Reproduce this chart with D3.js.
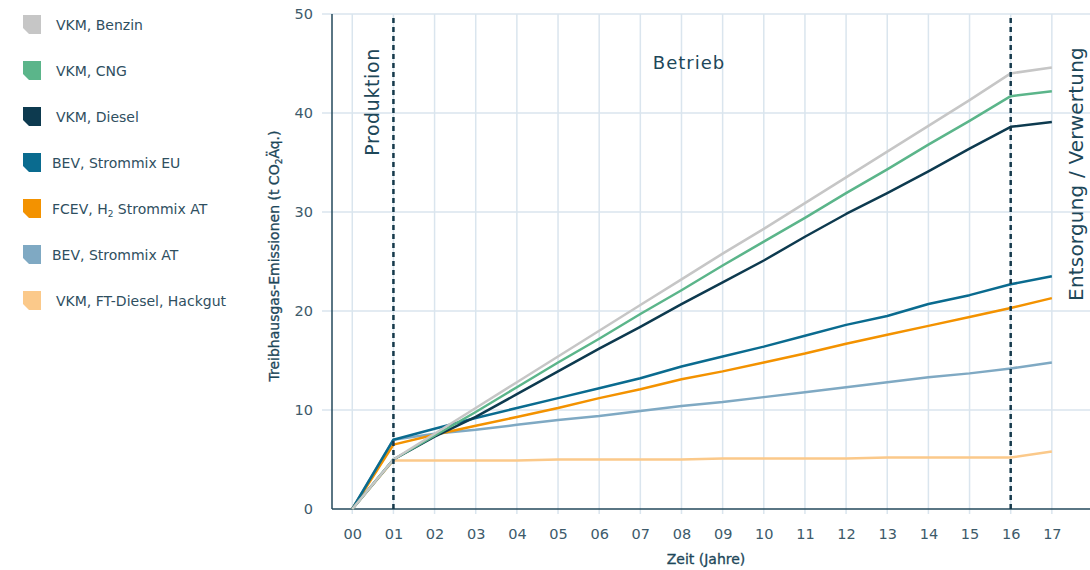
<!DOCTYPE html>
<html><head><meta charset="utf-8">
<script src="https://cdn.jsdelivr.net/npm/d3@7"></script>
<style>
body{margin:0;background:#fff;}
text{font-family:"DejaVu Sans",sans-serif;}
</style></head>
<body><svg id="c" width="1090" height="570"></svg>
<script>
const years = ["00","01","02","03","04","05","06","07","08","09","10","11","12","13","14","15","16","17"];
const yTicks = [0,10,20,30,40,50];
const seriesNames = ["VKM, Benzin","VKM, CNG","VKM, Diesel","BEV, Strommix EU","FCEV, H₂ Strommix AT","BEV, Strommix AT","VKM, FT-Diesel, Hackgut"];
const seriesColors = ["#c6c6c6","#5bb58a","#0d3a4f","#0a6b8f","#f39200","#7fa9c3","#fbc98a"];
const benzin  = [0,5.0,7.6,10.2,12.8,15.4,18.0,20.6,23.2,25.8,28.3,30.9,33.5,36.1,38.7,41.3,44.0,44.6];
const cng     = [0,5.0,7.4,9.8,12.3,14.8,17.2,19.7,22.1,24.6,27.0,29.4,31.9,34.3,36.8,39.2,41.7,42.2];
const diesel  = [0,5.0,7.3,9.3,11.6,13.9,16.2,18.4,20.7,22.9,25.1,27.5,29.8,31.9,34.1,36.4,38.6,39.1];
const bevEU   = [0,7.0,8.1,9.2,10.2,11.2,12.2,13.2,14.4,15.4,16.4,17.5,18.6,19.5,20.7,21.6,22.7,23.5];
const fcev    = [0,6.5,7.5,8.4,9.3,10.2,11.2,12.1,13.1,13.9,14.8,15.7,16.7,17.6,18.5,19.4,20.3,21.3];
const bevAT   = [0,7.0,7.6,8.0,8.5,9.0,9.4,9.9,10.4,10.8,11.3,11.8,12.3,12.8,13.3,13.7,14.2,14.8];
const ftDiesel= [0,4.9,4.9,4.9,4.9,5.0,5.0,5.0,5.0,5.1,5.1,5.1,5.1,5.2,5.2,5.2,5.2,5.8];
const seriesValues = [benzin,cng,diesel,bevEU,fcev,bevAT,ftDiesel];
const phaseMarks = ["01","16"];
const phaseLabels = ["Produktion","Betrieb","Entsorgung / Verwertung"];

const svg = d3.select("#c");
const L=332, R=1090, T=14, B=509;
const x = d3.scaleLinear().domain([-0.5,18]).range([331.7,1093]);
const y = d3.scaleLinear().domain([0,50]).range([B,T]);
const txt = "#1d4759";

// grid
const g = svg.append("g");
g.selectAll("line.h").data(yTicks.filter(d=>d>0)).join("line")
  .attr("x1",L-10).attr("x2",R).attr("y1",d=>y(d)).attr("y2",d=>y(d))
  .attr("stroke","#dae5ee").attr("stroke-width",1.5);
g.selectAll("line.v").data(years).join("line")
  .attr("x1",(d,i)=>x(i)).attr("x2",(d,i)=>x(i)).attr("y1",T).attr("y2",B+5)
  .attr("stroke","#dae5ee").attr("stroke-width",1.5);

// axes
const ya = svg.append("g").attr("transform",`translate(${L},0)`)
  .call(d3.axisLeft(y).tickValues(yTicks).tickSize(0).tickPadding(19));
ya.select(".domain").remove();
ya.selectAll("text").attr("font-size",14.5).attr("fill","#3d5a6a").attr("font-family","DejaVu Sans,sans-serif");
const xa = svg.append("g").attr("transform",`translate(0,${B})`)
  .call(d3.axisBottom(x).tickValues(d3.range(years.length)).tickFormat(i=>years[i]).tickSize(0).tickPadding(20));
xa.select(".domain").remove();
xa.selectAll("text").attr("font-size",14.5).attr("fill","#3d5a6a").attr("font-family","DejaVu Sans,sans-serif");

svg.append("line").attr("x1",L).attr("x2",L).attr("y1",T).attr("y2",B).attr("stroke","#23495b").attr("stroke-width",1.5);
svg.append("line").attr("x1",L).attr("x2",R).attr("y1",B).attr("y2",B).attr("stroke","#23495b").attr("stroke-width",1.5);

// axis titles
svg.append("text").attr("x",706).attr("y",564).attr("text-anchor","middle")
  .attr("font-size",14).attr("fill",txt).attr("stroke",txt).attr("stroke-width",0.3).text("Zeit (Jahre)");
const yt = svg.append("text").attr("transform","translate(279,256) rotate(-90)").attr("text-anchor","middle")
  .attr("font-size",14).attr("fill",txt).attr("stroke",txt).attr("stroke-width",0.3);
yt.append("tspan").text("Treibhausgas-Emissionen (t CO");
yt.append("tspan").attr("font-size",9).attr("dy",3).text("2");
yt.append("tspan").attr("dy",-3).text("Äq.)");

// lines
const line = d3.line().x((d,i)=>x(i)).y(d=>y(d));
svg.append("g").selectAll("path").data(seriesValues.map((v,i)=>({v,c:seriesColors[i]})).reverse()).join("path")
  .attr("d",d=>line(d.v)).attr("fill","none").attr("stroke",d=>d.c).attr("stroke-width",2.5)
  .attr("stroke-linejoin","round");

// phase dashed lines
svg.append("g").selectAll("line").data(phaseMarks).join("line")
  .attr("x1",d=>x(years.indexOf(d))).attr("x2",d=>x(years.indexOf(d)))
  .attr("y1",18).attr("y2",B).attr("stroke","#15394b").attr("stroke-width",2.5).attr("stroke-dasharray","5,4");

svg.append("text").attr("transform",`translate(${x(0.5)+6},102) rotate(-90)`).attr("text-anchor","middle")
  .attr("font-size",19).attr("letter-spacing",0.6).attr("fill",txt).text(phaseLabels[0]);
svg.append("text").attr("x",689).attr("y",69).attr("text-anchor","middle")
  .attr("font-size",18).attr("letter-spacing",1).attr("fill",txt).text(phaseLabels[1]);
svg.append("text").attr("transform",`translate(1083,174) rotate(-90)`).attr("text-anchor","middle")
  .attr("font-size",20).attr("letter-spacing",0.2).attr("fill",txt).text(phaseLabels[2]);

// legend
const lg = svg.append("g").selectAll("g").data(seriesNames).join("g")
  .attr("transform",(d,i)=>`translate(23,${15+i*46})`);
lg.append("path").attr("d","M0,0H18V19H6L0,13Z").attr("fill",(d,i)=>seriesColors[i]);
lg.each(function(d){
  const t = d3.select(this).append("text").attr("x",d.startsWith("VKM")?33:29).attr("y",15)
    .attr("font-size",14).attr("fill","#2f4f5f");
  const parts = d.split("₂");
  if(parts.length>1){
    t.append("tspan").text(parts[0]);
    t.append("tspan").attr("font-size",9).attr("dy",3).text("2");
    t.append("tspan").attr("dy",-3).text(parts[1]);
  } else t.text(d);
});
</script></body></html>
